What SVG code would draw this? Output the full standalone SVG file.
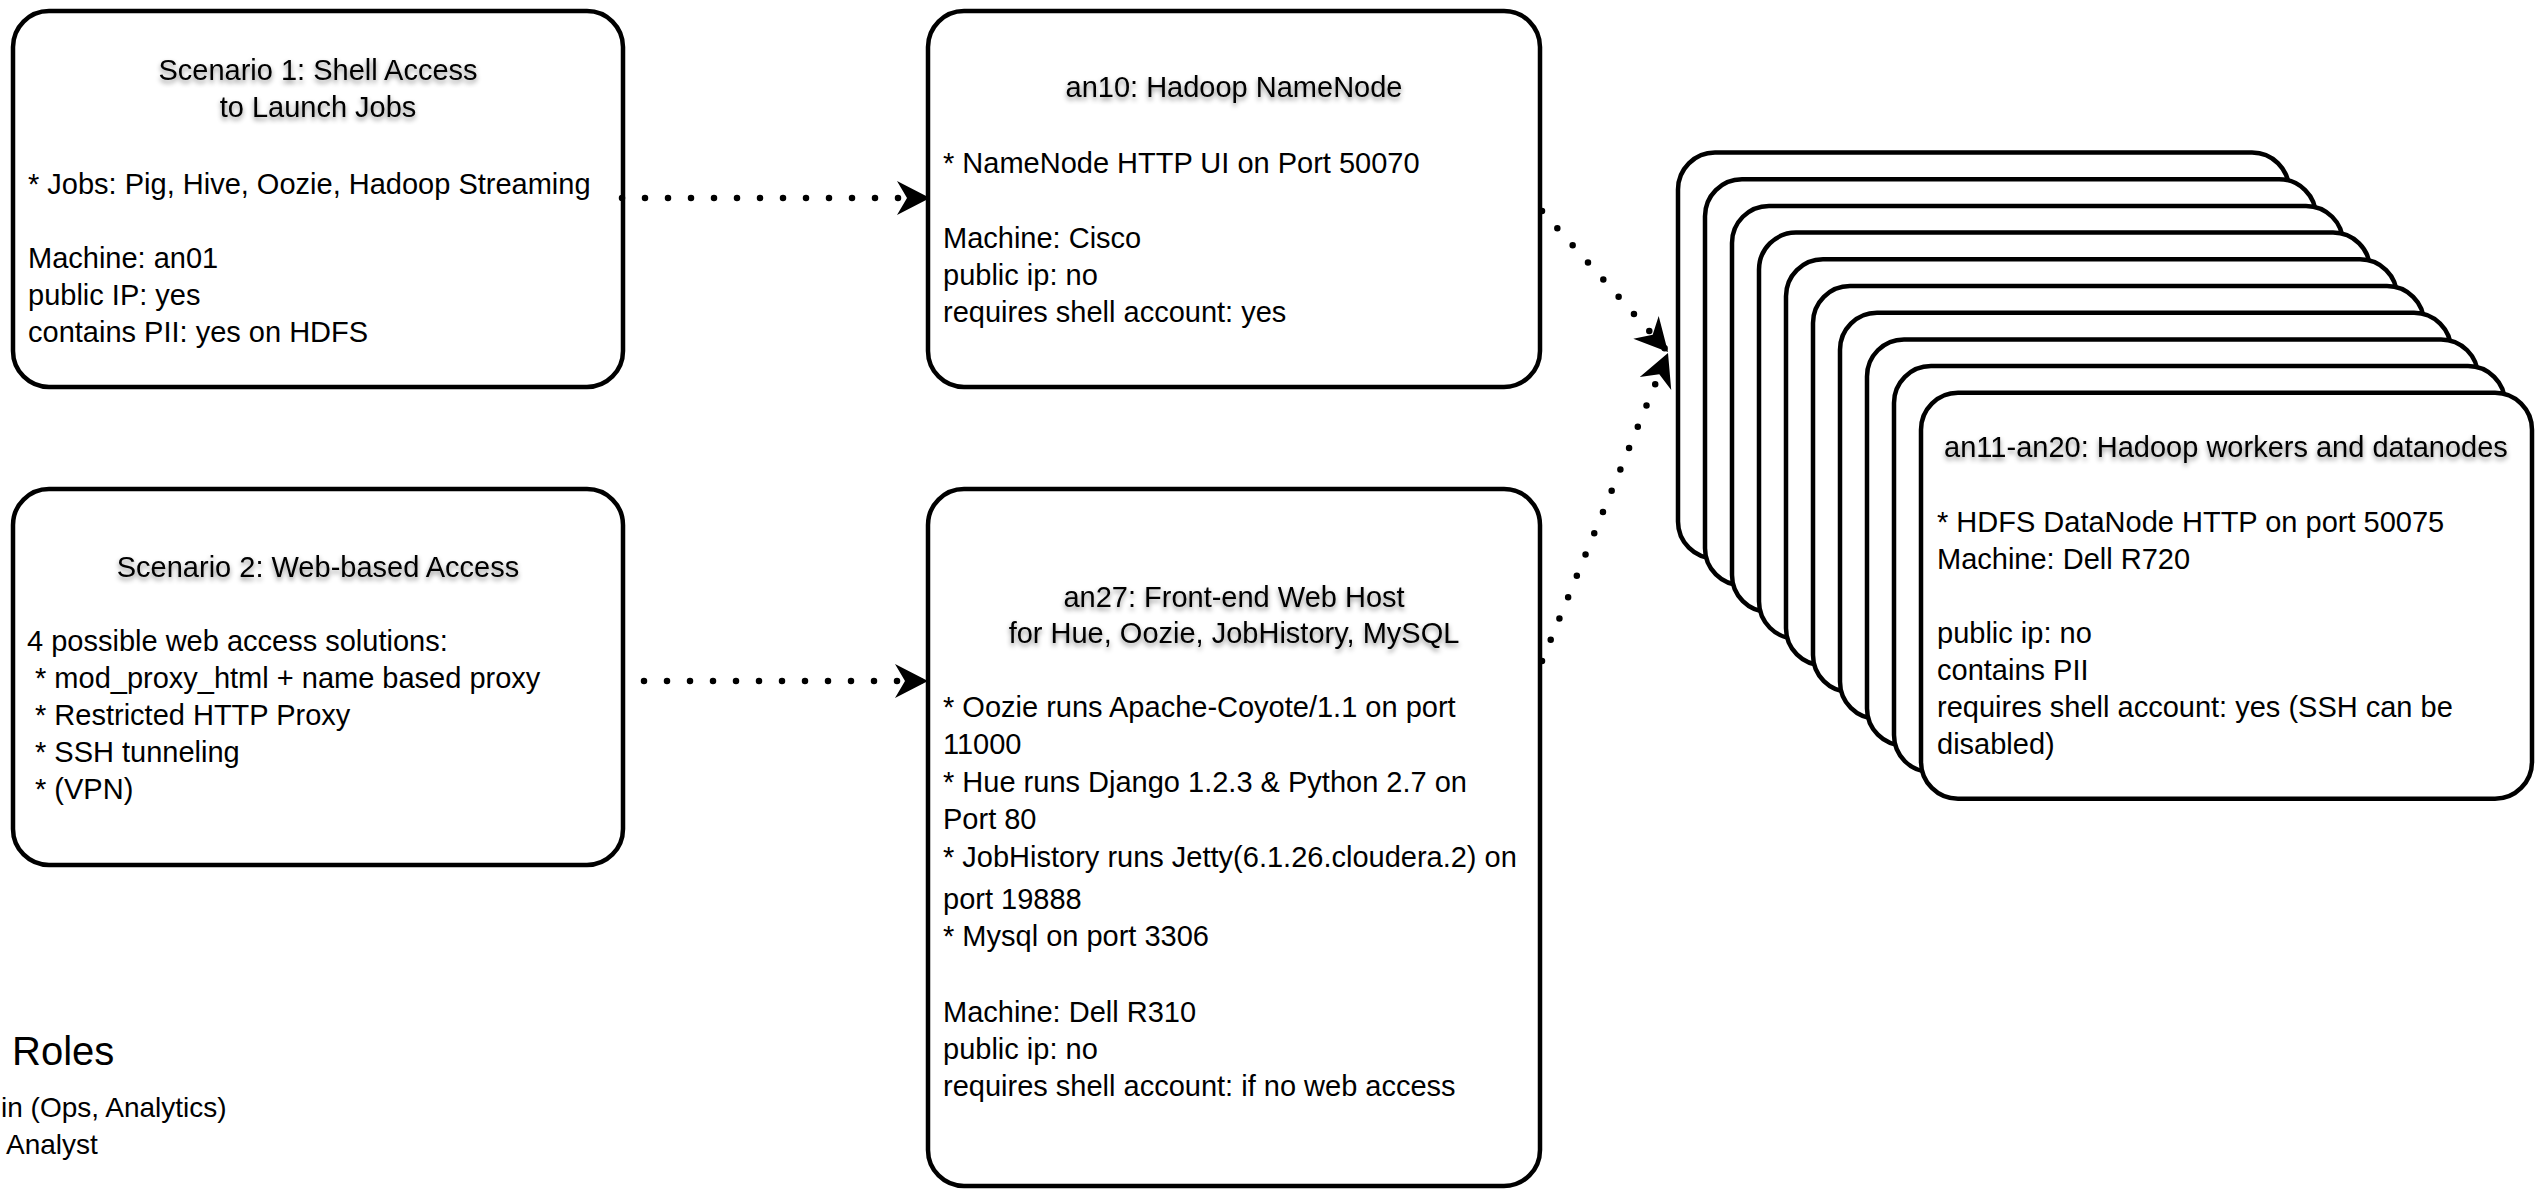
<svg xmlns="http://www.w3.org/2000/svg" width="2539" height="1189" viewBox="0 0 2539 1189">
<defs>
<style>
.box{fill:#fff;stroke:#000;stroke-width:4.5}
.t{font-family:"Liberation Sans",Arial,Helvetica,sans-serif;font-size:29px;fill:#000}
.c{text-anchor:middle}
.ti{filter:url(#sh)}
.dot{fill:none;stroke:#000;stroke-width:6.5;stroke-linecap:round;stroke-dasharray:0 23}
</style>
<filter id="sh" x="-10%" y="-40%" width="120%" height="180%">
<feDropShadow dx="0" dy="3" stdDeviation="2.5" flood-color="#000" flood-opacity="0.45"/>
</filter>
<marker id="arr" markerUnits="userSpaceOnUse" viewBox="-38 -20 40 40" refX="0" refY="0" markerWidth="40" markerHeight="40" orient="auto">
<path d="M0,0 L-33,-17 L-23,0 L-33,17 Z" fill="#000"/>
</marker>
</defs>
<rect width="2539" height="1189" fill="#fff"/>

<g id="workers">
<rect class="box" x="1678" y="152.5" width="611" height="406" rx="37"/>
<rect class="box" x="1705" y="179.2" width="611" height="406" rx="37"/>
<rect class="box" x="1732" y="205.9" width="611" height="406" rx="37"/>
<rect class="box" x="1759" y="232.6" width="611" height="406" rx="37"/>
<rect class="box" x="1786" y="259.3" width="611" height="406" rx="37"/>
<rect class="box" x="1813" y="286" width="611" height="406" rx="37"/>
<rect class="box" x="1840" y="312.7" width="611" height="406" rx="37"/>
<rect class="box" x="1867" y="339.4" width="611" height="406" rx="37"/>
<rect class="box" x="1894" y="366.1" width="611" height="406" rx="37"/>
<rect class="box" x="1921" y="392.8" width="611" height="406" rx="37"/>
<text class="t c ti" x="2226" y="457">an11-an20: Hadoop workers and datanodes</text>
<text class="t" x="1937" y="532">* HDFS DataNode HTTP on port 50075</text>
<text class="t" x="1937" y="569">Machine: Dell R720</text>
<text class="t" x="1937" y="643">public ip: no</text>
<text class="t" x="1937" y="680">contains PII</text>
<text class="t" x="1937" y="717">requires shell account: yes (SSH can be</text>
<text class="t" x="1937" y="754">disabled)</text>
</g>

<g id="scenario1">
<rect class="box" x="13" y="11" width="610" height="376" rx="36"/>
<text class="t c ti" x="318" y="80">Scenario 1: Shell Access</text>
<text class="t c ti" x="318" y="117">to Launch Jobs</text>
<text class="t" x="28" y="194">* Jobs: Pig, Hive, Oozie, Hadoop Streaming</text>
<text class="t" x="28" y="268">Machine: an01</text>
<text class="t" x="28" y="305">public IP: yes</text>
<text class="t" x="28" y="342">contains PII: yes on HDFS</text>
</g>

<g id="an10">
<rect class="box" x="928" y="11" width="612" height="376" rx="36"/>
<text class="t c ti" x="1234" y="97">an10: Hadoop NameNode</text>
<text class="t" x="943" y="173">* NameNode HTTP UI on Port 50070</text>
<text class="t" x="943" y="248">Machine: Cisco</text>
<text class="t" x="943" y="285">public ip: no</text>
<text class="t" x="943" y="322">requires shell account: yes</text>
</g>

<g id="scenario2">
<rect class="box" x="13" y="489" width="610" height="376" rx="36"/>
<text class="t c ti" x="318" y="577">Scenario 2: Web-based Access</text>
<text class="t" x="27" y="651">4 possible web access solutions:</text>
<text class="t" x="35" y="688">* mod_proxy_html + name based proxy</text>
<text class="t" x="35" y="725">* Restricted HTTP Proxy</text>
<text class="t" x="35" y="762">* SSH tunneling</text>
<text class="t" x="35" y="799">* (VPN)</text>
</g>

<g id="an27">
<rect class="box" x="928" y="489" width="612" height="697" rx="36"/>
<text class="t c ti" x="1234" y="607">an27: Front-end Web Host</text>
<text class="t c ti" x="1234" y="643">for Hue, Oozie, JobHistory, MySQL</text>
<text class="t" x="943" y="717">* Oozie runs Apache-Coyote/1.1 on port</text>
<text class="t" x="943" y="754">11000</text>
<text class="t" x="943" y="792">* Hue runs Django 1.2.3 &amp; Python 2.7 on</text>
<text class="t" x="943" y="829">Port 80</text>
<text class="t" x="943" y="867">* JobHistory runs Jetty(6.1.26.cloudera.2) on</text>
<text class="t" x="943" y="909">port 19888</text>
<text class="t" x="943" y="946">* Mysql on port 3306</text>
<text class="t" x="943" y="1022">Machine: Dell R310</text>
<text class="t" x="943" y="1059">public ip: no</text>
<text class="t" x="943" y="1096">requires shell account: if no web access</text>
</g>

<g id="roles">
<text class="t" x="12" y="1065" style="font-size:40px">Roles</text>
<text class="t" x="1" y="1117" style="font-size:28px">in (Ops, Analytics)</text>
<text class="t" x="6" y="1154" style="font-size:28px">Analyst</text>
</g>

<g id="connectors">
<path class="dot" d="M622,198 L930,198" marker-end="url(#arr)"/>
<path class="dot" d="M644,681 L928,681" marker-end="url(#arr)"/>
<path class="dot" d="M1542,211 L1668,352" marker-end="url(#arr)"/>
<path class="dot" d="M1542,661 L1668,353" marker-end="url(#arr)"/>
</g>
</svg>
